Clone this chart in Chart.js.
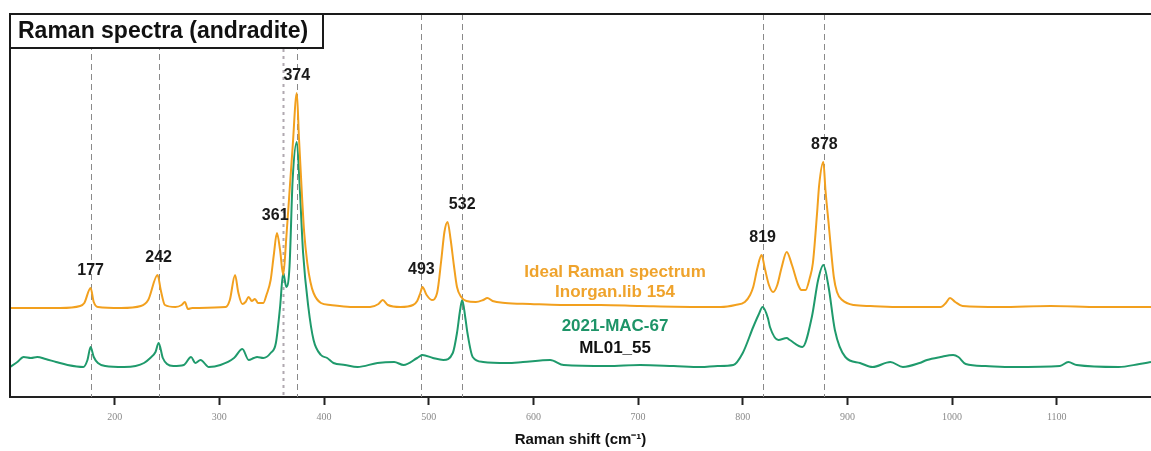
<!DOCTYPE html>
<html>
<head>
<meta charset="utf-8">
<title>Raman spectra (andradite)</title>
<script src="https://cdn.jsdelivr.net/npm/chart.js@4/dist/chart.umd.min.js"></script>
<style>
  html, body { margin: 0; padding: 0; background: #ffffff; }
  #wrap { width: 1151px; height: 451px; }
</style>
</head>
<body>
<div id="wrap"><canvas id="spectra" width="1151" height="451"></canvas></div>
<script>
// Reference spectrum (Inorgan.lib 154), Raman shift in cm-1 and relative intensity
const idealShift = [100,148,167,171,177,180,184,206,225,232,241,244,248,258,264,267,270,274,306,310,315,318,322,325,328,331,334,337,342,345,349,352,355,358,361,364,367,370,374,376,379,381,384,387,390,397,406,425,444,452,456,461,473,485,489,492,494,498,503,508,512,515,518,521,524,527,531,536,545,552,556,561,573,597,626,664,702,759,779,793,802,807,810,814,818,821,825,829,833,837,842,847,853,856,860,864,867,871,873,877,879,882,887,890,895,906,922,951,989,994,998,1003,1010,1046,1094,1141,1190];
const idealIntensity = [89,89,91,94,109,95,90,89,91,97,122,107,92,90,92,95,88,89,90,97,122,105,93,95,100,96,98,94,94,102,117,142,164,147,122,160,205,250,304,260,200,165,134,115,104,94,92,90,90,93,97,92,90,92,96,104,110,102,97,104,137,165,175,157,132,110,100,96,95,97,99,96,94,93,92,92,91,90,90,92,95,102,110,129,142,129,112,105,112,129,145,132,112,107,107,119,134,184,212,235,207,174,120,105,97,92,91,90,90,94,99,95,91,90,91,90,90];

// Measured sample spectrum (2021-MAC-67 / ML01_55)
const sampleShift = [100,107,113,120,126,134,144,155,170,174,177,180,184,191,209,220,228,234,239,242,246,250,256,266,273,277,282,290,301,314,322,328,333,336,342,349,354,358,361,364,367,370,374,377,380,385,390,397,403,409,420,432,451,467,476,489,494,504,514,523,527,530,532,535,537,542,552,575,590,616,629,671,702,734,760,776,791,800,810,815,819,824,826,834,842,845,857,866,872,877,882,888,898,912,924,941,953,969,976,989,1001,1006,1013,1032,1058,1103,1111,1119,1159,1179,1190];
const sampleIntensity = [30,35,40,39,40,38,35,32,30,37,50,40,34,31,30,31,34,39,45,54,39,33,31,32,40,34,37,30,32,39,48,37,39,40,39,44,54,90,124,110,130,217,255,205,144,90,57,42,39,34,32,30,34,35,32,39,42,39,37,44,64,87,97,79,64,40,35,34,35,37,32,31,32,31,30,31,32,44,70,82,90,79,70,57,59,57,50,80,117,132,110,67,40,34,30,35,30,34,37,40,42,40,33,31,30,31,35,32,30,33,35];

// Assigned band positions (cm-1) and their labels
const peakPositions = [177, 242, 361, 374, 493, 532, 819, 878];
const peakLabels = ['177', '242', '361', '374', '493', '532', '819', '878'];

// Axis tick values
const tickValues = [200, 300, 400, 500, 600, 700, 800, 900, 1000, 1100];

// Spectrum captions
const captionLines = ['Ideal Raman spectrum', 'Inorgan.lib 154', '2021-MAC-67', 'ML01_55'];

const ORANGE = '#F2A01E';
const GREEN = '#1F9A6C';
const FONT = "'Liberation Sans', Arial, Helvetica, sans-serif";

function toPoints(xs, ys) {
  return xs.map((x, i) => ({ x: x, y: ys[i] }));
}

// Dashed markers at the assigned bands
const bandLines = {
  id: 'bandLines',
  beforeDatasetsDraw(chart) {
    const { ctx, chartArea, scales } = chart;
    ctx.save();
    peakPositions.forEach(p => {
      const x = Math.round(scales.x.getPixelForValue(p)) + 0.5;
      ctx.beginPath();
      if (p === 361) {
        ctx.setLineDash([3, 4]);
        ctx.lineWidth = 2;
        ctx.strokeStyle = 'rgba(150,140,150,0.75)';
      } else {
        ctx.setLineDash([6, 4]);
        ctx.lineWidth = 1;
        ctx.strokeStyle = '#8a8a8a';
      }
      ctx.moveTo(x, chartArea.top);
      ctx.lineTo(x, chartArea.bottom);
      ctx.stroke();
    });
    ctx.restore();
  }
};

// Band labels placed just above the nearby maximum of the reference spectrum
const bandLabels = {
  id: 'bandLabels',
  afterDatasetsDraw(chart, args, opts) {
    const { ctx, scales } = chart;
    ctx.save();
    ctx.font = 'bold 16px ' + FONT;
    ctx.fillStyle = '#1a1a1a';
    ctx.textAlign = 'center';
    ctx.textBaseline = 'middle';
    peakPositions.forEach((p, i) => {
      let top = -Infinity;
      idealShift.forEach((s, k) => {
        if (s >= p - 15 && s <= p + 3 && idealIntensity[k] > top) top = idealIntensity[k];
      });
      const x = scales.x.getPixelForValue(p) + (opts.shift[peakLabels[i]] || 0);
      const y = scales.y.getPixelForValue(top) - opts.gap;
      ctx.fillText(peakLabels[i], x, y);
    });
    ctx.restore();
  }
};

// Captions next to the traces
const captions = {
  id: 'captions',
  afterDatasetsDraw(chart, args, opts) {
    const { ctx, scales } = chart;
    ctx.save();
    ctx.font = 'bold 17px ' + FONT;
    ctx.textAlign = 'center';
    ctx.textBaseline = 'middle';
    captionLines.forEach((t, i) => {
      ctx.fillStyle = opts.colors[i];
      ctx.fillText(t, scales.x.getPixelForValue(opts.x), scales.y.getPixelForValue(opts.y[i]));
    });
    ctx.restore();
  }
};

// Frame (top and left edges) and boxed title
const frameAndTitle = {
  id: 'frameAndTitle',
  afterDraw(chart) {
    const { ctx, chartArea } = chart;
    ctx.save();
    ctx.strokeStyle = '#1a1a1a';
    ctx.lineWidth = 2;
    ctx.setLineDash([]);
    ctx.beginPath();
    ctx.moveTo(chartArea.left, chartArea.bottom);
    ctx.lineTo(chartArea.left, chartArea.top);
    ctx.lineTo(chart.width, chartArea.top);
    ctx.stroke();

    const bx = chartArea.left, by = chartArea.top, bw = 313, bh = 34;
    ctx.fillStyle = '#ffffff';
    ctx.fillRect(bx, by, bw, bh);
    ctx.strokeRect(bx, by, bw, bh);
    ctx.fillStyle = '#111111';
    ctx.font = 'bold 23px ' + FONT;
    ctx.textAlign = 'left';
    ctx.textBaseline = 'middle';
    ctx.fillText('Raman spectra (andradite)', bx + 8, by + bh / 2 + 1);
    ctx.restore();
  }
};

new Chart(document.getElementById('spectra'), {
  type: 'line',
  data: {
    datasets: [
      {
        label: 'Ideal Raman spectrum (Inorgan.lib 154)',
        data: toPoints(idealShift, idealIntensity),
        borderColor: ORANGE,
        borderWidth: 2,
        pointRadius: 0,
        cubicInterpolationMode: 'monotone',
        fill: false
      },
      {
        label: '2021-MAC-67 ML01_55',
        data: toPoints(sampleShift, sampleIntensity),
        borderColor: GREEN,
        borderWidth: 2,
        pointRadius: 0,
        cubicInterpolationMode: 'monotone',
        fill: false
      }
    ]
  },
  options: {
    responsive: false,
    devicePixelRatio: 1,
    animation: false,
    events: [],
    layout: { padding: { left: 10, top: 14, right: 0, bottom: 0 } },
    plugins: {
      legend: { display: false },
      tooltip: { enabled: false },
      title: { display: false },
      bandLabels: { gap: 17, shift: { '361': -8 } },
      captions: {
        x: 678,
        y: [125, 105, 71, 49],
        colors: ['#EFA32C', '#EFA32C', '#1E9468', '#111111']
      }
    },
    scales: {
      x: {
        type: 'linear',
        min: 100,
        max: 1190,
        afterBuildTicks(scale) {
          scale.ticks = tickValues.map(v => ({ value: v }));
        },
        afterFit(scale) { scale.height = 54; },
        border: { display: true, color: '#222222', width: 2 },
        grid: {
          display: true,
          drawOnChartArea: false,
          drawTicks: true,
          tickLength: 8,
          tickWidth: 2,
          tickColor: '#222222'
        },
        ticks: {
          autoSkip: false,
          maxRotation: 0,
          padding: 6,
          color: '#8a8a8a',
          font: { family: "'Liberation Serif', 'DejaVu Serif', serif", size: 10 },
          callback: v => String(v)
        },
        title: {
          display: true,
          text: 'Raman shift (cm\u207B\u00B9)',
          color: '#111111',
          font: { family: FONT, size: 15, weight: 'bold' },
          padding: { top: 0, bottom: 2 }
        }
      },
      y: {
        type: 'linear',
        display: false,
        min: 0,
        max: 383
      }
    }
  },
  plugins: [bandLines, bandLabels, captions, frameAndTitle]
});
</script>
</body>
</html>
